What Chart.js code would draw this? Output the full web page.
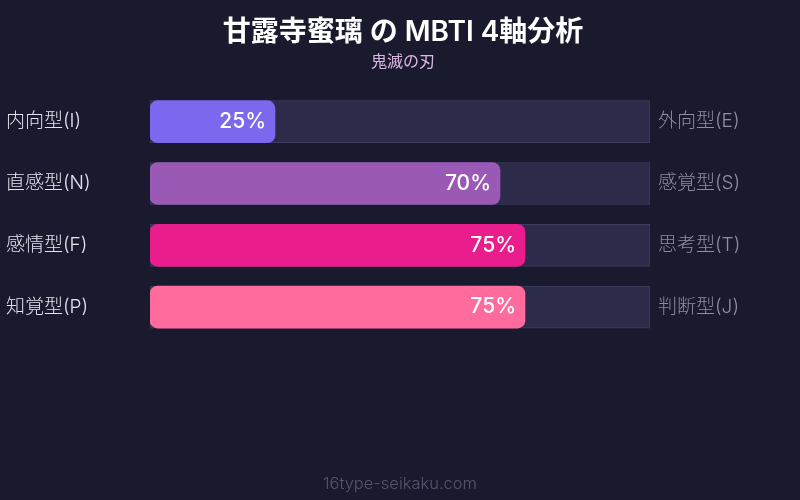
<!DOCTYPE html>
<html>
<head>
<meta charset="utf-8">
<script src="https://cdn.jsdelivr.net/npm/chart.js@4/dist/chart.umd.min.js"></script>
<style>
  body { margin: 0; background: #1a1a2e; }
  #wrap { width: 800px; height: 500px; }
</style>
</head>
<body>
<div id="wrap"><canvas id="myChart"></canvas></div>
<script>
// left side of each axis, right side, and the score for the left side
var leftLabels = ['内向型(I)', '直感型(N)', '感情型(F)', '知覚型(P)'];
var rightLabels = ['外向型(E)', '感覚型(S)', '思考型(T)', '判断型(J)'];
var scores = [25, 70, 75, 75];
var fullTrack = [100, 100, 100, 100];
var barColors = ['#7b68ee', '#9b59b6', '#e91e8c', '#ff6b9d'];

var FONT = "Inter, 'Noto Sans CJK JP', sans-serif";

// writes "25%" etc. at the end of each coloured bar, plus the site name at the bottom
var extras = {
  id: 'extras',
  afterDatasetsDraw: function(chart) {
    var c = chart.ctx;
    var meta = chart.getDatasetMeta(0);
    c.save();
    c.font = '500 21px ' + FONT;
    c.fillStyle = '#ffffff';
    c.textAlign = 'right';
    c.textBaseline = 'middle';
    meta.data.forEach(function(bar, i) {
      c.fillText(scores[i] + '%', bar.x - 9, bar.y);
    });
    c.font = '300 16.5px ' + FONT;
    c.fillStyle = '#55556e';
    c.textAlign = 'center';
    c.fillText('16type-seikaku.com', chart.width / 2, 484);
    c.restore();
  }
};

var ctx = document.getElementById('myChart');
var myChart = new Chart(ctx, {
  type: 'bar',
  data: {
    labels: leftLabels,
    datasets: [{
      // drawn on top (index 0 is painted last)
      data: scores,
      backgroundColor: barColors,
      borderRadius: 8,
      borderSkipped: false,
      barThickness: 42,
      grouped: false
    }, {
      data: fullTrack,
      backgroundColor: '#2d2b4a',
      borderColor: '#3e3c5e',
      borderWidth: 1,
      borderSkipped: false,
      barThickness: 42,
      grouped: false
    }]
  },
  options: {
    indexAxis: 'y',
    responsive: true,
    maintainAspectRatio: false,
    animation: false,
    layout: { padding: { left: 6, right: 0, top: 0, bottom: 162 } },
    scales: {
      x: { min: 0, max: 100, display: false },
      y: {
        position: 'left',
        grid: { display: false },
        border: { display: false },
        afterFit: function(scale) { scale.width = 144; },
        ticks: {
          crossAlign: 'far',
          color: '#e4e4f0',
          font: { family: FONT, size: 19, weight: 300 }
        }
      },
      y2: {
        type: 'category',
        position: 'right',
        labels: rightLabels,
        grid: { display: false },
        border: { display: false },
        afterFit: function(scale) { scale.width = 150; },
        ticks: {
          crossAlign: 'near',
          padding: 0,
          color: '#8e8ea6',
          font: { family: FONT, size: 19, weight: 300 }
        }
      }
    },
    plugins: {
      legend: { display: false },
      tooltip: { enabled: false },
      title: {
        display: true,
        text: '甘露寺蜜璃 の MBTI 4軸分析',
        color: '#ffffff',
        font: { family: FONT, size: 28, weight: 600 },
        padding: { top: 16, bottom: 3 }
      },
      subtitle: {
        display: true,
        text: '鬼滅の刃',
        color: '#dcb8e6',
        font: { family: FONT, size: 16 },
        padding: { top: 0, bottom: 19 }
      }
    }
  },
  plugins: [extras]
});
</script>
</body>
</html>
